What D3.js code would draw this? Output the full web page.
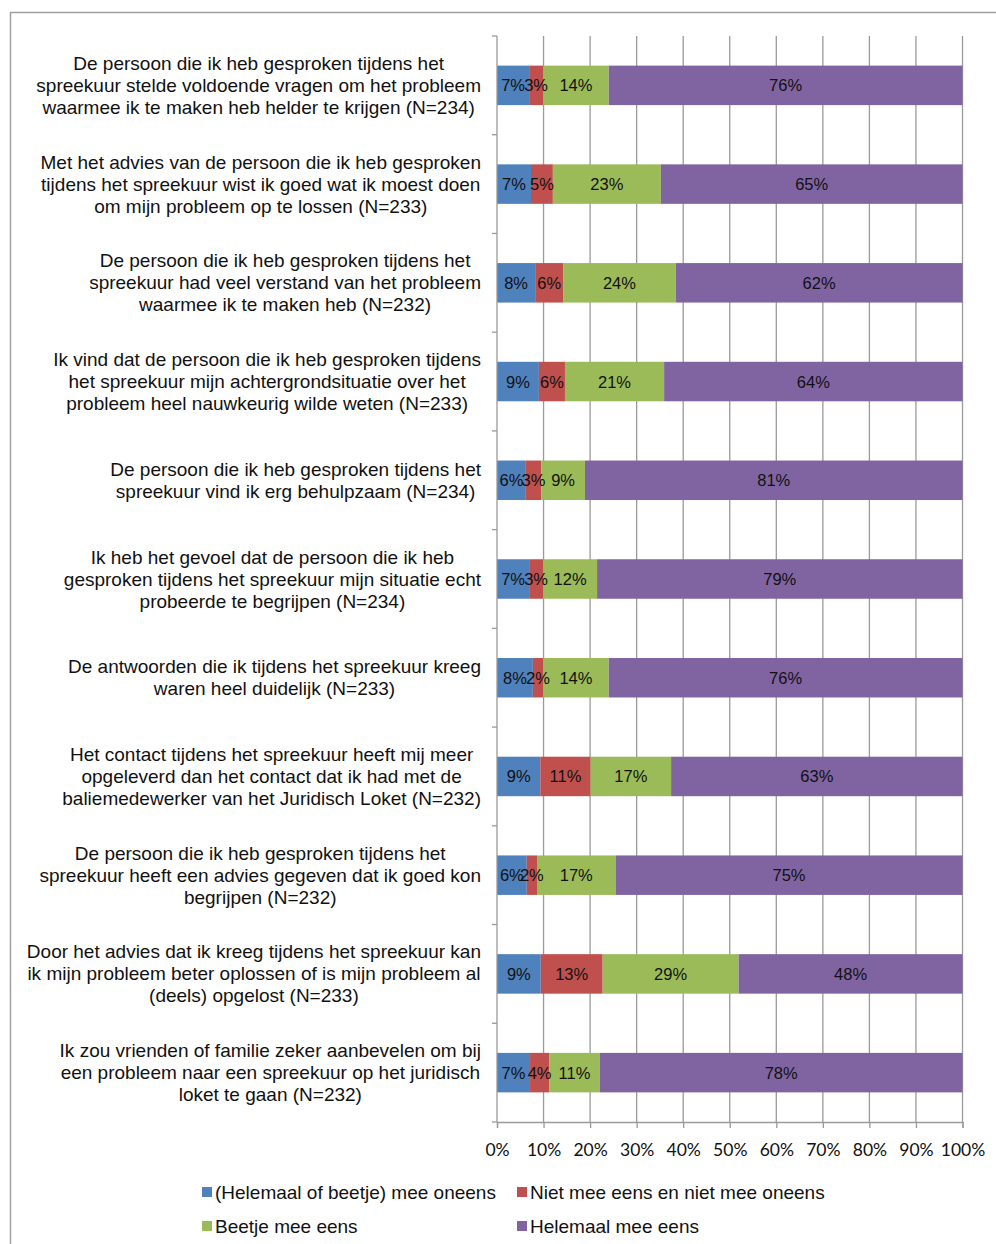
<!DOCTYPE html>
<html><head><meta charset="utf-8">
<script src="https://cdn.jsdelivr.net/npm/d3@7"></script>
<style>body{margin:0;background:#fff}</style>
</head><body>
<script>
const categories = [
  ["De persoon die ik heb gesproken tijdens het","spreekuur stelde voldoende vragen om het probleem","waarmee ik te maken heb helder te krijgen (N=234)"],
  ["Met het advies van de persoon die ik heb gesproken","tijdens het spreekuur wist ik goed wat ik moest doen","om mijn probleem op te lossen (N=233)"],
  ["De persoon die ik heb gesproken tijdens het","spreekuur had veel verstand van het probleem","waarmee ik te maken heb (N=232)"],
  ["Ik vind dat de persoon die ik heb gesproken tijdens","het spreekuur mijn achtergrondsituatie over het","probleem heel nauwkeurig wilde weten (N=233)"],
  ["De persoon die ik heb gesproken tijdens het","spreekuur vind ik erg behulpzaam (N=234)"],
  ["Ik heb het gevoel dat de persoon die ik heb","gesproken tijdens het spreekuur mijn situatie echt","probeerde te begrijpen (N=234)"],
  ["De antwoorden die ik tijdens het spreekuur kreeg","waren heel duidelijk (N=233)"],
  ["Het contact tijdens het spreekuur heeft mij meer","opgeleverd dan het contact dat ik had met de","baliemedewerker van het Juridisch Loket (N=232)"],
  ["De persoon die ik heb gesproken tijdens het","spreekuur heeft een advies gegeven dat ik goed kon","begrijpen (N=232)"],
  ["Door het advies dat ik kreeg tijdens het spreekuur kan","ik mijn probleem beter oplossen of is mijn probleem al","(deels) opgelost (N=233)"],
  ["Ik zou vrienden of familie zeker aanbevelen om bij","een probleem naar een spreekuur op het juridisch","loket te gaan (N=232)"]
];
const seriesNames = ["(Helemaal of beetje) mee oneens","Niet mee eens en niet mee oneens","Beetje mee eens","Helemaal mee eens"];
const oneens =  [6.9, 7.3, 8.2, 9.0, 6.2, 6.9, 7.7, 9.3, 6.4, 9.4, 7.1];
const neutraal =[3.0, 4.7, 6.0, 5.6, 3.3, 3.0, 2.2,10.8, 2.2,13.3, 4.1];
const beetje =  [14.1,23.2,24.2,21.3, 9.4,11.6,14.1,17.3,16.9,29.2,10.9];
const helemaal =[76.0,64.8,61.6,64.1,81.1,78.5,76.0,62.6,74.6,48.1,77.9];
const xTicks = [0,0.1,0.2,0.3,0.4,0.5,0.6,0.7,0.8,0.9,1];
const colors = ["#4f81bd","#c0504d","#9bbb59","#8064a2"];

const W = 996, H = 1244;
const svg = d3.select("body").append("svg").attr("width", W).attr("height", H);
svg.append("rect").attr("x",10.5).attr("y",12.5).attr("width",W).attr("height",H)
  .attr("fill","none").attr("stroke","#a0a0a0").attr("stroke-width",1.5);

const pLeft = 497, pRight = 962.5, pTop = 36, pBottom = 1122;
const x = d3.scaleLinear().domain([0,1]).range([pLeft,pRight]);
const y = d3.scaleBand().domain(d3.range(categories.length)).range([pTop,pBottom]).paddingInner(0.6).paddingOuter(0.3);

// gridlines
svg.append("g").selectAll("line").data(xTicks.slice(1)).join("line")
  .attr("x1",d=>x(d)).attr("x2",d=>x(d)).attr("y1",pTop).attr("y2",pBottom)
  .attr("stroke","#9a9a9a").attr("stroke-width",1.3);

const rows = categories.map((c,i)=>{
  const vals=[oneens[i],neutraal[i],beetje[i],helemaal[i]];
  const tot=d3.sum(vals); let acc=0;
  return vals.map((v,k)=>{const s={i,k,x0:acc/tot,x1:(acc+v)/tot,v}; acc+=v; return s;});
});
const segs = rows.flat();
svg.append("g").selectAll("rect").data(segs).join("rect")
  .attr("x",d=>x(d.x0)).attr("width",d=>x(d.x1)-x(d.x0))
  .attr("y",d=>y(d.i)).attr("height",y.bandwidth())
  .attr("fill",d=>colors[d.k]);
svg.append("g").selectAll("text").data(segs).join("text")
  .attr("x",d=>(x(d.x0)+x(d.x1))/2).attr("y",d=>y(d.i)+y.bandwidth()/2+6)
  .attr("text-anchor","middle").attr("font-family","Liberation Sans, Arial, sans-serif")
  .attr("font-size",16.5).attr("fill","#111")
  .text(d=>Math.round(d.v)+"%");

// y axis
const yAx = svg.append("g");
yAx.append("line").attr("x1",pLeft).attr("x2",pLeft).attr("y1",pTop).attr("y2",pBottom).attr("stroke","#9a9a9a").attr("stroke-width",1.3);
const bounds = d3.range(categories.length+1).map(i=>pTop+i*(pBottom-pTop)/categories.length);
yAx.selectAll("line.t").data(bounds).join("line").attr("class","t")
  .attr("x1",pLeft-5).attr("x2",pLeft).attr("y1",d=>d).attr("y2",d=>d).attr("stroke","#9a9a9a").attr("stroke-width",1.3);

// x axis
const xAx = svg.append("g").attr("transform",`translate(0,${pBottom})`)
  .call(d3.axisBottom(x).tickValues(xTicks).tickFormat(d3.format(".0%")).tickSize(6).tickPadding(16));
xAx.select(".domain").attr("stroke","#9a9a9a").attr("stroke-width",1.3);
xAx.selectAll(".tick line").attr("stroke","#9a9a9a").attr("stroke-width",1.3);
xAx.selectAll("text").attr("font-family","Lato, Carlito, sans-serif").attr("font-size",17.5).attr("fill","#111");

// category labels
const lab = svg.append("g").attr("font-family","Liberation Sans, Arial, sans-serif").attr("font-size",19).attr("fill","#111");
categories.forEach((lines,i)=>{
  const cy = y(i)+y.bandwidth()/2;
  const g = lab.append("g");
  const lh = 22;
  const n = lines.length;
  const ts = g.selectAll("text").data(lines).join("text")
    .attr("y",(d,j)=>cy+(j-(n-1)/2)*lh+6.5).attr("text-anchor","middle").text(d=>d);
  let mw=0; ts.each(function(){mw=Math.max(mw,this.getComputedTextLength());});
  ts.attr("x",481-mw/2);
});

// legend
const legPos = [[202,1192],[517,1192],[202,1226],[517,1226]];
const leg = svg.append("g").selectAll("g").data(seriesNames).join("g")
  .attr("transform",(d,i)=>`translate(${legPos[i][0]},${legPos[i][1]})`);
leg.append("rect").attr("x",0).attr("y",-5).attr("width",10).attr("height",10).attr("fill",(d,i)=>colors[i]);
leg.append("text").attr("x",13).attr("y",6.5).attr("font-family","Liberation Sans, Arial, sans-serif").attr("font-size",19).attr("fill","#111").text(d=>d);
</script>
</body></html>
